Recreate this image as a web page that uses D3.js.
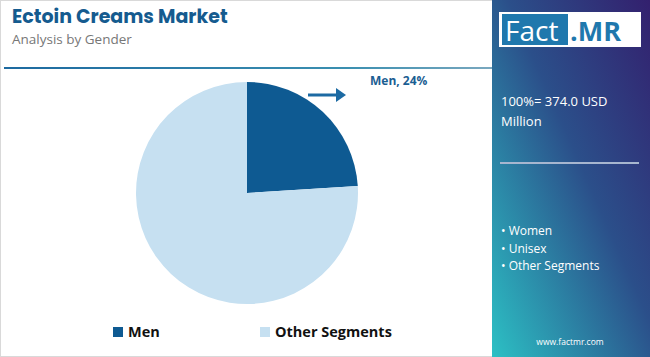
<!DOCTYPE html>
<html><head><meta charset="utf-8">
<script src="https://cdn.jsdelivr.net/npm/d3@7"></script>
<style>body{margin:0;background:#fff;}svg{display:block;}</style>
</head><body>
<svg id="c" width="650" height="357"></svg>
<script>
const categories = ["Men", "Other Segments"];
const shares = [24, 76];
const colors = ["#0e5a92", "#c6e0f1"];
const labelText = "Men, 24%";
const totalText = ["100%= 374.0 USD", "Million"];
const otherSegments = ["Women", "Unisex", "Other Segments"];

const svg = d3.select("#c");
const defs = svg.append("defs");
const g1 = defs.append("linearGradient").attr("id","pg").attr("x1","100%").attr("y1","0%").attr("x2","0%").attr("y2","100%");
g1.append("stop").attr("offset","0%").attr("stop-color","#33206e");
g1.append("stop").attr("offset","45%").attr("stop-color","#2b4f8a");
g1.append("stop").attr("offset","100%").attr("stop-color","#2cc0c4");
const g2 = defs.append("linearGradient").attr("id","lg").attr("x1","0%").attr("x2","100%");
g2.append("stop").attr("offset","0%").attr("stop-color","#1d6aa0");
g2.append("stop").attr("offset","70%").attr("stop-color","#3a8fb0");
g2.append("stop").attr("offset","100%").attr("stop-color","#7aa8bf");

svg.append("rect").attr("x",0.5).attr("y",0.5).attr("width",649).attr("height",356).attr("fill","#fff").attr("stroke","#d9d9d9");

svg.append("text").attr("x",12).attr("y",23).attr("font-family","Poppins, 'Open Sans', sans-serif").attr("font-weight",700).attr("font-size",19).attr("fill","#155b8f").text("Ectoin Creams Market");
svg.append("text").attr("x",12).attr("y",44).attr("font-family","'Open Sans', sans-serif").attr("font-size",13.5).attr("fill","#777").text("Analysis by Gender");

svg.append("rect").attr("x",4).attr("y",67).attr("width",488).attr("height",2).attr("fill","url(#lg)");

// right panel
svg.append("rect").attr("x",492).attr("y",0).attr("width",158).attr("height",357).attr("fill","url(#pg)");
svg.append("rect").attr("x",499).attr("y",12).attr("width",142).attr("height",35).attr("fill","#fff");
svg.append("rect").attr("x",502).attr("y",14).attr("width",66).attr("height",31).attr("fill","#1f78ad");
svg.append("text").attr("x",505).attr("y",41).attr("font-family","'Open Sans', sans-serif").attr("font-size",28).attr("fill","#fff").text("Fact");
svg.append("text").attr("x",570).attr("y",41).attr("font-family","'Open Sans', sans-serif").attr("font-weight",700).attr("font-size",27).attr("fill","#1f78ad").text(".MR");

svg.selectAll("text.tot").data(totalText).enter().append("text").attr("x",501).attr("y",(d,i)=>106+i*20)
  .attr("font-family","'Open Sans', sans-serif").attr("font-size",13).attr("fill","#fff").text(d=>d);
svg.append("line").attr("x1",500).attr("x2",639).attr("y1",163).attr("y2",163).attr("stroke","#a7b6cf").attr("stroke-width",2);
svg.selectAll("text.seg").data(otherSegments).enter().append("text").attr("x",501).attr("y",(d,i)=>235+i*17.5)
  .attr("font-family","'Open Sans', sans-serif").attr("font-size",12).attr("fill","#fff").text(d=>"• "+d);
svg.append("text").attr("x",570).attr("y",345).attr("text-anchor","middle").attr("font-family","'Open Sans', sans-serif").attr("font-size",8.5).attr("fill","#fff").text("www.factmr.com");

// pie
const cx = 247, cy = 193, r = 111;
const pie = d3.pie().sort(null).value(d=>d)(shares);
const arc = d3.arc().innerRadius(0).outerRadius(r);
const pg = svg.append("g").attr("transform",`translate(${cx},${cy})`);
pg.selectAll("path").data(pie).enter().append("path").attr("d",arc).attr("fill",(d,i)=>colors[i]);

// arrow + label
svg.append("line").attr("x1",308).attr("x2",338).attr("y1",95).attr("y2",95).attr("stroke","#1c6aa3").attr("stroke-width",3);
svg.append("path").attr("d","M336,88 L346,95 L336,102 Z").attr("fill","#1c6aa3");
svg.append("text").attr("x",370).attr("y",85).attr("font-family","'Open Sans', sans-serif").attr("font-weight",700).attr("font-size",12).attr("fill","#1b5e92").text(labelText);

// legend
const lx = [113, 260];
const lg = svg.selectAll("g.leg").data(categories).enter().append("g").attr("transform",(d,i)=>`translate(${lx[i]},327)`);
lg.append("rect").attr("width",10).attr("height",10).attr("fill",(d,i)=>colors[i]);
lg.append("text").attr("x",15).attr("y",10).attr("font-family","'Open Sans', sans-serif").attr("font-weight",700).attr("font-size",14.5).attr("fill","#111").text(d=>d);
</script>
</body></html>
